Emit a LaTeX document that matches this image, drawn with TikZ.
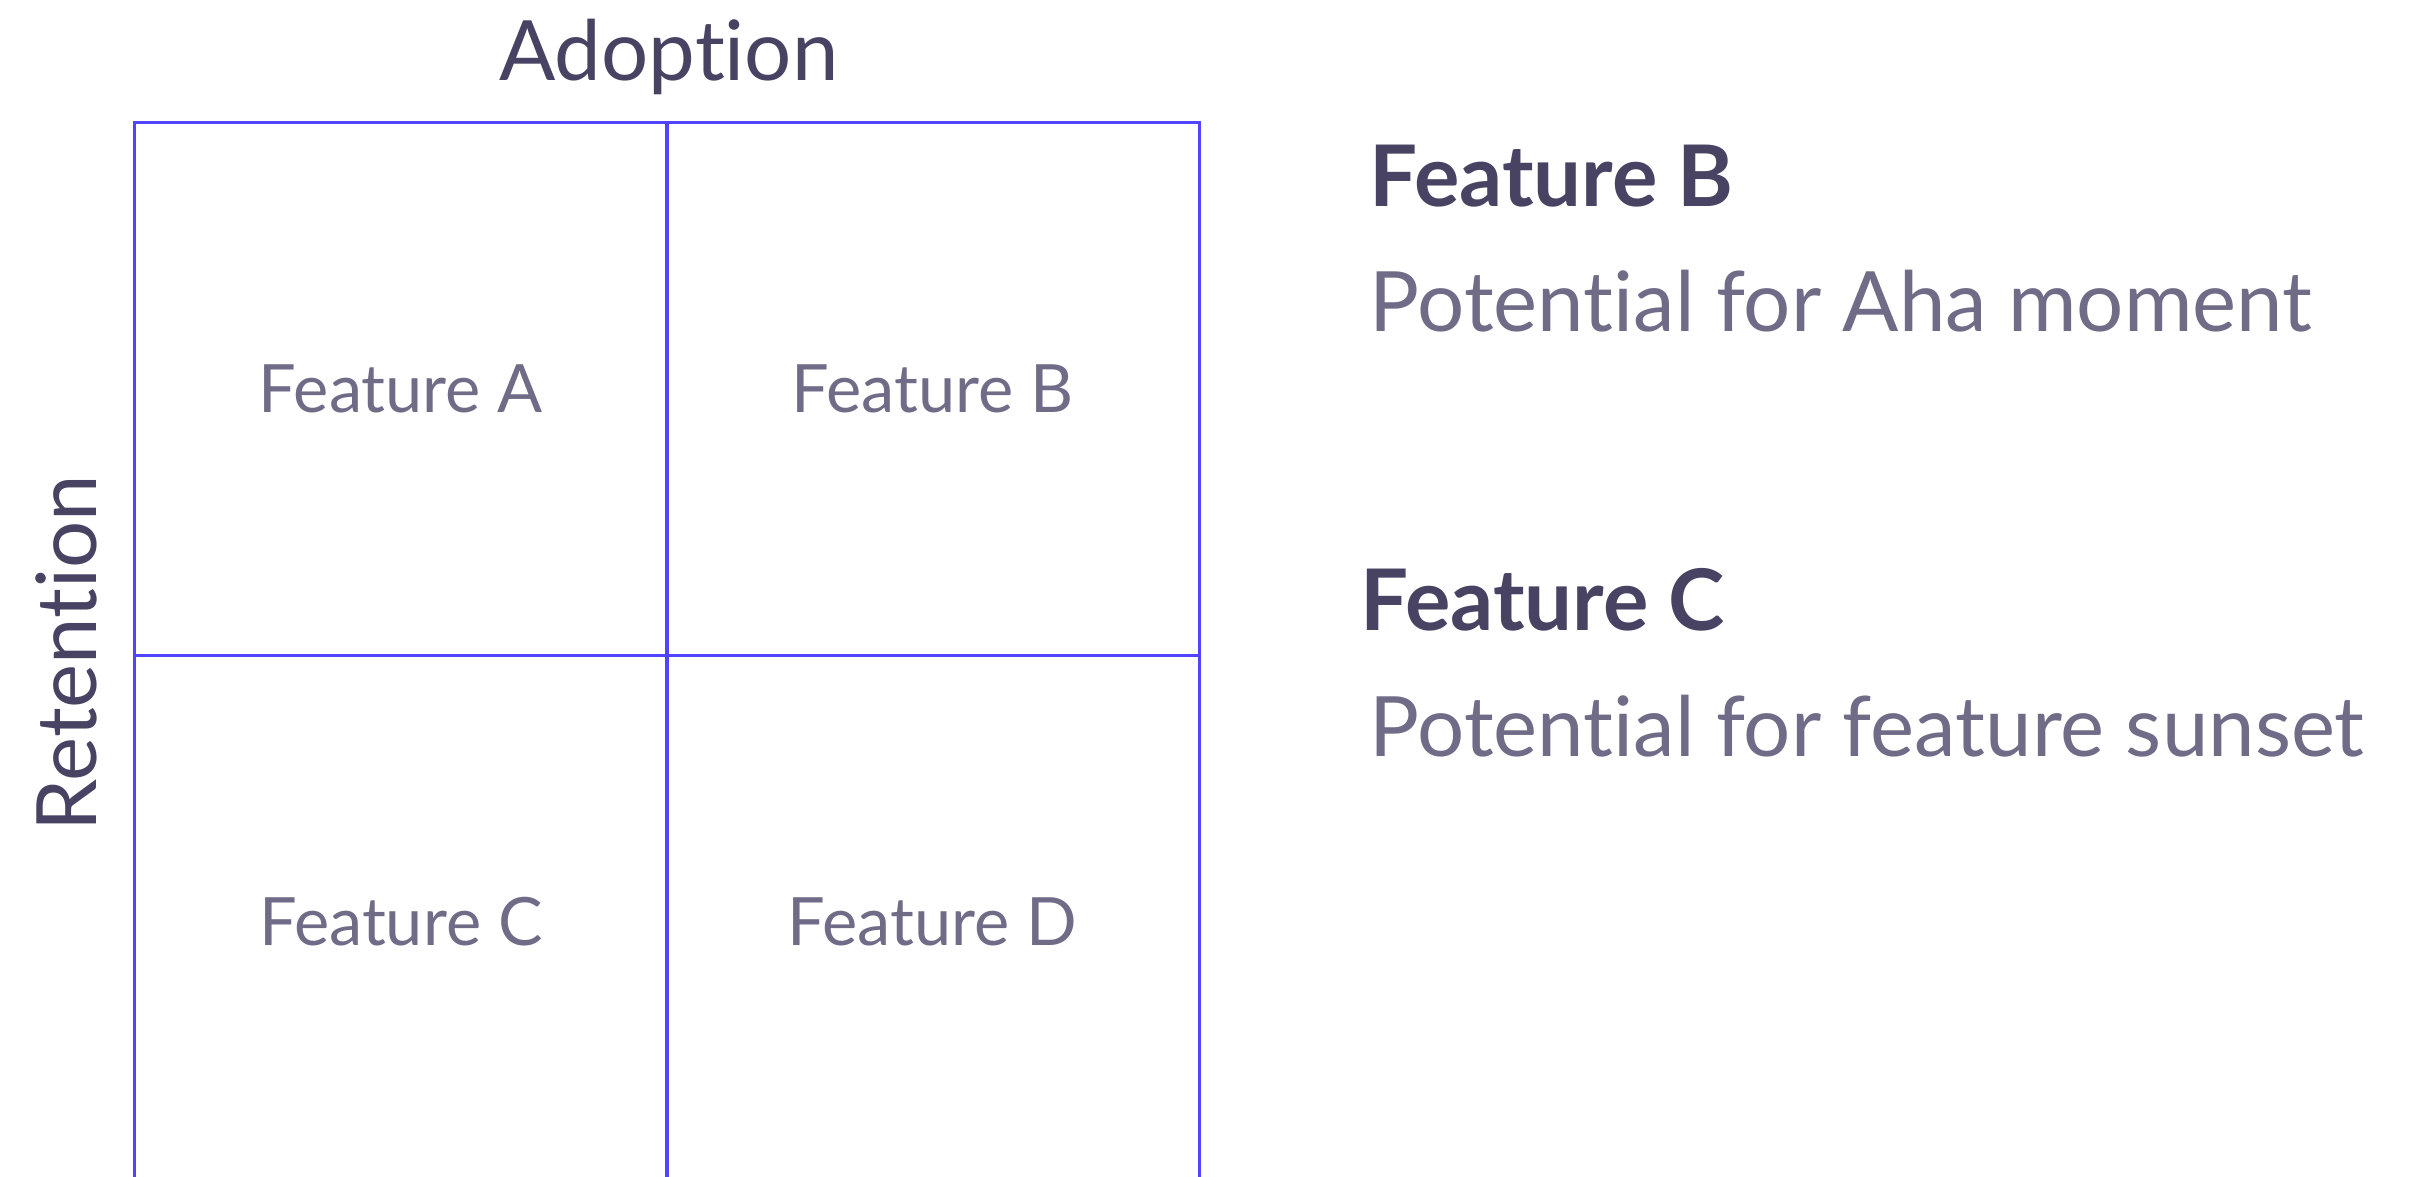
\documentclass[tikz,border=0pt]{standalone}
\usepackage{fontspec}
\setmainfont{Lato}[Ligatures=NoCommon]
\definecolor{gridblue}{RGB}{80,68,255}
\definecolor{inkdark}{RGB}{72,67,98}
\definecolor{inkgray}{RGB}{112,108,135}
\begin{document}
\begin{tikzpicture}[x=0.3pt,y=0.3pt,
	cell/.style={draw=gridblue,line width=0.9pt,minimum width=533*0.3pt,minimum height=533*0.3pt,inner sep=0pt,text=inkgray,font=\fontsize{20}{24}\selectfont},
	axis/.style={text=inkdark,anchor=base,font=\fontsize{25}{29}\selectfont},
	head/.style={text=inkdark,anchor=base west,inner sep=0pt,font=\fontsize{25.5}{30}\selectfont\bfseries},
	desc/.style={text=inkgray,anchor=base west,inner sep=0pt,font=\fontsize{25}{30}\selectfont}]
		\useasboundingbox (0,0) rectangle (2423,1176);
		\clip (0,0) rectangle (2423,1176);
		\foreach \n/\x/\y/\t in {A/401/787.5/Feature A, B/932.5/787.5/Feature B, C/401/254.5/Feature C, D/932.5/254.5/Feature D}{
			\node[cell] (cell\n) at (\x,\y) {\t};
		}
		\node[axis] (adoption) at (669,1096) {Adoption};
		\node[axis,rotate=90] (retention) at (96,523) {Retention};
		\node[head] (headB) at (1369,970) {Feature B};
		\node[desc] (descB) at (1369,845) {Potential for Aha moment};
		\node[head] (headC) at (1360,546) {Feature C};
		\node[desc] (descC) at (1369,420) {Potential for feature sunset};
\end{tikzpicture}
\end{document}
